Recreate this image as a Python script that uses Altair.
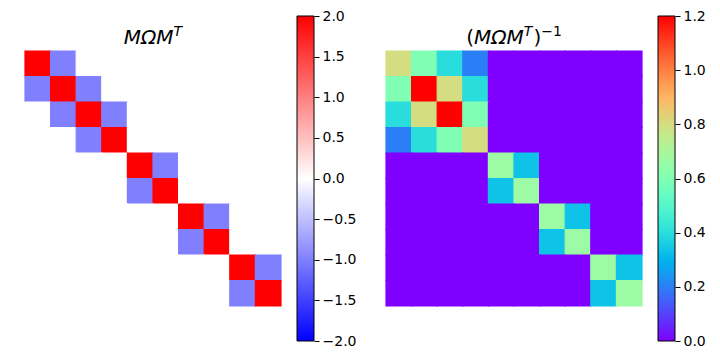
import math
import numpy as np
import pandas as pd
import altair as alt

# Matrix M Omega M^T
mom = [
    [2, -1, 0, 0, 0, 0, 0, 0, 0, 0],
    [-1, 2, -1, 0, 0, 0, 0, 0, 0, 0],
    [0, -1, 2, -1, 0, 0, 0, 0, 0, 0],
    [0, 0, -1, 2, 0, 0, 0, 0, 0, 0],
    [0, 0, 0, 0, 2, -1, 0, 0, 0, 0],
    [0, 0, 0, 0, -1, 2, 0, 0, 0, 0],
    [0, 0, 0, 0, 0, 0, 2, -1, 0, 0],
    [0, 0, 0, 0, 0, 0, -1, 2, 0, 0],
    [0, 0, 0, 0, 0, 0, 0, 0, 2, -1],
    [0, 0, 0, 0, 0, 0, 0, 0, -1, 2],
]
# Its inverse
inv = [
    [0.8, 0.6, 0.4, 0.2, 0, 0, 0, 0, 0, 0],
    [0.6, 1.2, 0.8, 0.4, 0, 0, 0, 0, 0, 0],
    [0.4, 0.8, 1.2, 0.6, 0, 0, 0, 0, 0, 0],
    [0.2, 0.4, 0.6, 0.8, 0, 0, 0, 0, 0, 0],
    [0, 0, 0, 0, 0.667, 0.333, 0, 0, 0, 0],
    [0, 0, 0, 0, 0.333, 0.667, 0, 0, 0, 0],
    [0, 0, 0, 0, 0, 0, 0.667, 0.333, 0, 0],
    [0, 0, 0, 0, 0, 0, 0.333, 0.667, 0, 0],
    [0, 0, 0, 0, 0, 0, 0, 0, 0.667, 0.333],
    [0, 0, 0, 0, 0, 0, 0, 0, 0.333, 0.667],
]
left_ticks = [-2.0, -1.5, -1.0, -0.5, 0.0, 0.5, 1.0, 1.5, 2.0]
right_ticks = [0.0, 0.2, 0.4, 0.6, 0.8, 1.0, 1.2]
# title pieces: (text, size, style, raised, approx width)
left_title = [("MΩM", 20, "italic", False, 49.8), ("T", 14, "italic", True, 8.6)]
right_title = [("(", 20, "normal", False, 7.8), ("MΩM", 20, "italic", False, 49.8),
               ("T", 14, "italic", True, 9.6), (")", 20, "normal", False, 7.8),
               ("−1", 14, "normal", True, 20.6)]


def to_hex(r, g, b):
    c = lambda v: int(round(max(0.0, min(1.0, v)) * 255))
    return "#{:02x}{:02x}{:02x}".format(c(r), c(g), c(b))


# colormaps
bwr_dom = [-2.0, 0.0, 2.0]
bwr_rng = ["#0000ff", "#ffffff", "#ff0000"]

rb_n = 25
rb_dom, rb_rng = [], []
for i in range(rb_n):
    t = i / (rb_n - 1)
    rb_dom.append(1.2 * t)
    rb_rng.append(to_hex(abs(2 * t - 0.5), math.sin(math.pi * t), math.cos(math.pi * t / 2)))


def long_df(mat):
    rows = []
    for r, row in enumerate(mat):
        for c, v in enumerate(row):
            rows.append({"r0": r, "r1": r + 1, "c0": c, "c1": c + 1, "v": v})
    return pd.DataFrame(rows)


PW, PH = 256, 325
ROW = 25.5
pad_rows = 35 / ROW
TITLE_BASE = 27.5
NOVIEW = alt.ViewBackground(strokeOpacity=0, strokeWidth=0)


def title_layers(pieces):
    total = sum(p[4] for p in pieces)
    x = PW / 2 - total / 2
    layers = []
    for text, size, style, raised, w in pieces:
        layers.append(
            alt.Chart(pd.DataFrame({"t": [text]})).mark_text(
                font="DejaVu Sans", fontSize=size, fontStyle=style, baseline="alphabetic",
                align="left", color="black"
            ).encode(x=alt.value(x), y=alt.value(TITLE_BASE - (8 if raised else 0)), text="t:N")
        )
        x += w
    return layers


def heat(mat, dom, rng, title):
    sc = alt.Scale(domain=dom, range=rng, interpolate="rgb", clamp=True)
    base = alt.Chart(long_df(mat)).mark_rect(strokeWidth=1.2).encode(
        x=alt.X("c0:Q", scale=alt.Scale(domain=[0, 10], nice=False, zero=False), axis=None),
        x2="c1",
        y=alt.Y("r0:Q", scale=alt.Scale(domain=[-pad_rows, 10 + pad_rows], nice=False, zero=False, reverse=True), axis=None),
        y2="r1",
        color=alt.Color("v:Q", scale=sc, legend=None),
        stroke=alt.Stroke("v:Q", scale=sc, legend=None),
    )
    return alt.layer(base, *title_layers(title)).properties(width=PW, height=PH, view=NOVIEW)


def cbar(dom, rng, ticks):
    lo, hi = dom[0], dom[-1]
    stops = [alt.GradientStop(color=c, offset=(d - lo) / (hi - lo)) for d, c in zip(dom, rng)]
    grad = alt.LinearGradient(gradient="linear", stops=stops, x1=0, x2=0, y1=1, y2=0)
    return alt.Chart(pd.DataFrame({"a": [0]})).mark_rect(
        color=grad, stroke="black", strokeWidth=1
    ).encode(
        x=alt.value(0), x2=alt.value(17),
        y=alt.YDatum(lo, type="quantitative",
                     scale=alt.Scale(domain=[lo, hi], nice=False, zero=False),
                     axis=alt.Axis(orient="right", values=ticks, format=".1f", domain=False,
                                   grid=False, ticks=True, tickSize=5, tickWidth=1,
                                   tickColor="black", labelFont="DejaVu Sans",
                                   labelFontSize=14, labelColor="black", labelPadding=3,
                                   labelOverlap=False, title=None)),
        y2=alt.Y2Datum(hi),
    ).properties(width=17, height=PH, view=NOVIEW)


left = alt.hconcat(heat(mom, bwr_dom, bwr_rng, left_title), cbar(bwr_dom, bwr_rng, left_ticks), spacing=14)
right = alt.hconcat(heat(inv, rb_dom, rb_rng, right_title), cbar(rb_dom, rb_rng, right_ticks), spacing=14)

chart = alt.hconcat(left, right, spacing=29).resolve_scale(
    x="independent", y="independent", color="independent", stroke="independent"
).properties(
    padding={"left": 24, "top": 9, "right": 0, "bottom": 0}
).configure_view(strokeWidth=0, strokeOpacity=0).configure(background="white")

chart.save("out.html", embed_options={"renderer": "svg", "actions": False})
